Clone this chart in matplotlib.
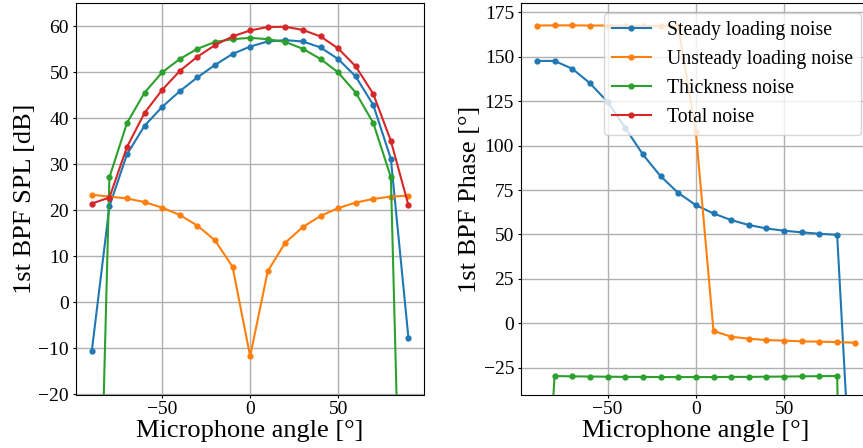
import numpy as np
import matplotlib
matplotlib.use("Agg")
import matplotlib.pyplot as plt

plt.rcParams['font.family'] = ['Liberation Serif', 'DejaVu Serif']
plt.rcParams['mathtext.fontset'] = 'stix'

angles = [-90, -80, -70, -60, -50, -40, -30, -20, -10, 0, 10, 20, 30, 40, 50, 60, 70, 80, 90]

spl_steady = [-10.5, 20.9, 32.2, 38.4, 42.5, 45.9, 48.9, 51.6, 54.0, 55.6, 56.7, 57.0, 56.7, 55.4, 52.9, 49.1, 42.9, 31.2, -7.8]
spl_unsteady = [23.4, 23.0, 22.6, 21.8, 20.6, 19.0, 16.7, 13.5, 7.75, -11.7, 6.8, 13.0, 16.4, 18.8, 20.5, 21.7, 22.5, 23.0, 23.2]
spl_thickness = [-120.0, 27.2, 39.0, 45.6, 50.0, 52.9, 55.1, 56.6, 57.2, 57.5, 57.2, 56.6, 55.1, 52.9, 50.0, 45.6, 39.0, 27.2, -120.0]
spl_total = [21.5, 22.8, 33.8, 41.2, 46.2, 50.3, 53.4, 55.9, 57.8, 59.1, 59.85, 59.9, 59.2, 57.8, 55.2, 51.3, 45.3, 35.1, 21.1]

ph_steady = [147.6, 147.6, 143.2, 135.1, 124.6, 110.0, 95.0, 82.8, 73.4, 66.5, 61.8, 58.1, 55.3, 53.4, 52.1, 51.2, 50.4, 49.8, -133.0]
ph_unsteady = [167.5, 167.6, 167.6, 167.5, 167.5, 167.4, 167.3, 167.2, 167.0, 107.7, -4.3, -7.5, -8.6, -9.4, -9.7, -10.1, -10.3, -10.5, -10.9]
ph_thickness = [-200.0, -29.6, -29.8, -29.9, -30.0, -30.1, -30.1, -30.2, -30.2, -30.2, -30.2, -30.1, -30.1, -30.0, -29.9, -29.8, -29.7, -29.6, -500.0]
ph_total = [None] * 19

labels = ['Steady loading noise', 'Unsteady loading noise', 'Thickness noise', 'Total noise']
colors = ['#1f77b4', '#ff7f0e', '#2ca02c', '#d62728']

W, H = 863, 448
fig = plt.figure(figsize=(W / 100, H / 100), dpi=100)
ax1 = fig.add_axes([76 / W, 1 - 394.5 / H, 348.3 / W, (394.5 - 3.3) / H])
ax2 = fig.add_axes([521 / W, 1 - 394.5 / H, 349.7 / W, (394.5 - 3.3) / H])

spl = [spl_steady, spl_unsteady, spl_thickness, spl_total]
ph = [ph_steady, ph_unsteady, ph_thickness, ph_total]

for s, c, lab in zip(spl, colors, labels):
    ax1.plot(angles, s, '.-', color=c, label=lab, markersize=7, linewidth=1.5)
for p, c, lab in zip(ph, colors, labels):
    vals = np.array([np.nan if v is None else v for v in p], dtype=float)
    ax2.plot(angles, vals, '.-', color=c, label=lab, markersize=7, linewidth=1.5)

ax1.set_ylim(-20, 65)
ax1.set_xlim(-99, 99)
ax2.set_ylim(-40, 180)
ax2.set_xlim(-99, 99)
ax1.set_yticks([-20, -10, 0, 10, 20, 30, 40, 50, 60])
ax2.set_yticks([-25, 0, 25, 50, 75, 100, 125, 150, 175])
for ax in (ax1, ax2):
    ax.set_xticks([-50, 0, 50])
    ax.grid(True, color='#b0b0b0', linewidth=1.0)
    ax.tick_params(labelsize=14, length=2.5, pad=2.5, width=0.8)
    ax.set_xlabel('Microphone angle [°]', fontsize=19, labelpad=1)
    for sp in ax.spines.values():
        sp.set_linewidth(0.8)
ax1.set_ylabel('1st BPF SPL [dB]', fontsize=19, labelpad=2)
ax2.set_ylabel('1st BPF Phase [°]', fontsize=19, labelpad=2)
ax2.legend(loc='upper right', fontsize=14.2)

fig.savefig('out.png', dpi=100)
